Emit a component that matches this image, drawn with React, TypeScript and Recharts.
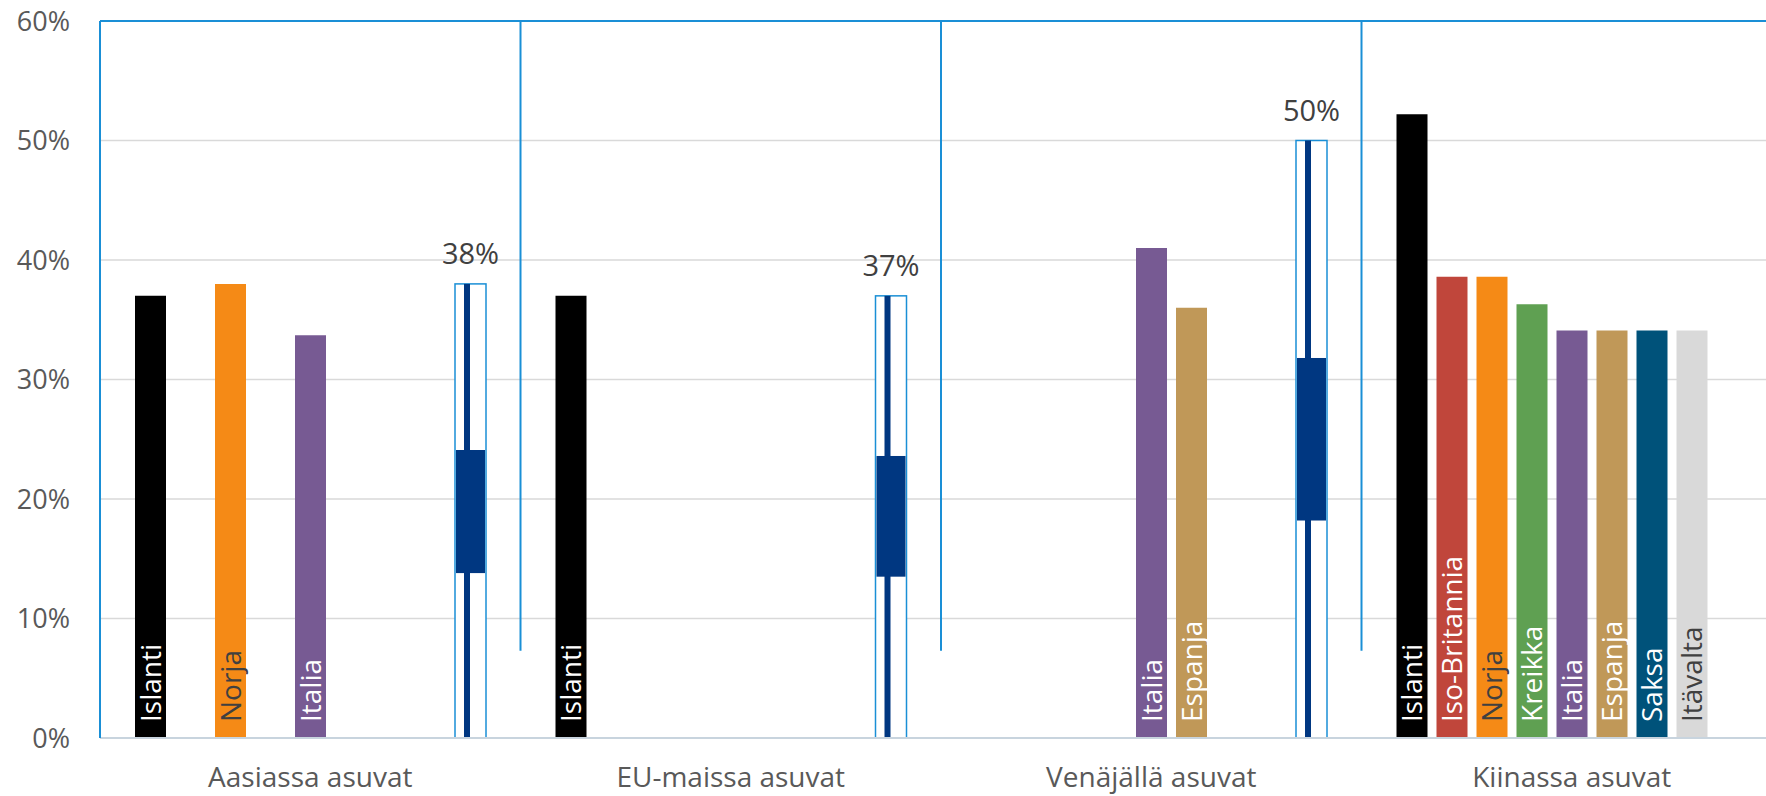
import { BarChart, Bar, XAxis, YAxis, CartesianGrid, LabelList, ReferenceLine } from 'recharts';

const categories = ['Aasiassa asuvat', 'EU-maissa asuvat', 'Venäjällä asuvat', 'Kiinassa asuvat'];

const islanti = [37, 37, null, 52.2];
const isoBritannia = [null, null, null, 38.6];
const norja = [38, null, null, 38.6];
const kreikka = [null, null, null, 36.3];
const italia = [33.7, null, 41, 34.1];
const espanja = [null, null, 36, 34.1];
const saksa = [null, null, null, 34.1];
const itavalta = [null, null, null, 34.1];

// outlined range column: total, plus the filled middle band
const rangeTop = [38, 37, 50, null];
const rangeLow = [13.8, 13.5, 18.2, null];
const rangeHigh = [24.1, 23.6, 31.8, null];

const yTicks = [0, 10, 20, 30, 40, 50, 60];

const series = [
  { key: 'Islanti', values: islanti, color: '#000000', text: '#ffffff' },
  { key: 'Iso-Britannia', values: isoBritannia, color: '#C0463B', text: '#ffffff' },
  { key: 'Norja', values: norja, color: '#F58A16', text: '#404040' },
  { key: 'Kreikka', values: kreikka, color: '#5FA052', text: '#ffffff' },
  { key: 'Italia', values: italia, color: '#775A93', text: '#ffffff' },
  { key: 'Espanja', values: espanja, color: '#C09858', text: '#ffffff' },
  { key: 'Saksa', values: saksa, color: '#00527A', text: '#ffffff' },
  { key: 'Itävalta', values: itavalta, color: '#D9D9D9', text: '#404040' },
];

const data = categories.map((name, i) => {
  const row: any = { name, rangeTop: rangeTop[i], rangeLow: rangeLow[i], rangeHigh: rangeHigh[i] };
  series.forEach((s) => {
    row[s.key] = s.values[i];
  });
  return row;
});

const FONT = '"Open Sans", "Segoe UI", sans-serif';
const BLUE = '#1A8FD6';
const NAVY = '#003781';

function nameLabel(name: string, color: string) {
  return (props: any) => {
    const { x, y, width, height, value } = props;
    if (value == null || !height) return null;
    const cx = x + width / 2;
    const by = y + height - 16;
    return (
      <text
        x={cx}
        y={by}
        dy="0.36em"
        transform={`rotate(-90, ${cx}, ${by})`}
        textAnchor="start"
        fill={color}
        fontSize={28}
        fontFamily={FONT}
      >
        {name}
      </text>
    );
  };
}

function RangeBox(props: any) {
  const { x, y, width, height, payload } = props;
  if (!height || payload == null || payload.rangeTop == null) return null;
  const perUnit = height / payload.rangeTop;
  const base = y + height;
  const yHigh = base - payload.rangeHigh * perUnit;
  const yLow = base - payload.rangeLow * perUnit;
  return (
    <g>
      <rect x={x} y={y} width={width} height={height} fill="#ffffff" stroke={BLUE} strokeWidth={1.5} />
      <rect x={x + 9} y={y} width={6} height={height} fill={NAVY} />
      <rect x={x + 1} y={yHigh} width={width - 2} height={yLow - yHigh} fill={NAVY} />
    </g>
  );
}

export default function App() {
  return (
    <div style={{ position: 'fixed', left: 0, top: 0, width: 1766, height: 796, overflow: 'hidden', background: '#fff' }}>
      <BarChart
        width={1782}
        height={796}
        data={data}
        margin={{ top: 21, right: 0, bottom: 0, left: 0 }}
        barSize={31}
        barGap={9}
      >
        <CartesianGrid vertical={false} stroke="#D9D9D9" strokeWidth={1.5} />
        <XAxis
          dataKey="name"
          height={58}
          axisLine={{ stroke: '#C8D4DE', strokeWidth: 2 }}
          tickLine={false}
          tickSize={6}
          tickMargin={23}
          tick={{ fontSize: 28, fill: '#595959', fontFamily: FONT }}
        />
        <YAxis
          width={100}
          domain={[0, 60]}
          ticks={yTicks}
          interval={0}
          tickFormatter={(v: number) => `${v}%`}
          axisLine={{ stroke: BLUE, strokeWidth: 2 }}
          tickLine={false}
          tickSize={6}
          tickMargin={24}
          tick={{ fontSize: 27, fill: '#595959', fontFamily: FONT }}
        />
        <ReferenceLine y={60} stroke={BLUE} strokeWidth={2} />
        {categories.slice(0, 3).map((c) => (
          <ReferenceLine
            key={`sep-${c}`}
            segment={[{ x: c, y: 60 }, { x: c, y: 7.3 }]}
            position="end"
            stroke={BLUE}
            strokeWidth={2}
          />
        ))}
        {series.map((s) => (
          <Bar key={s.key} dataKey={s.key} fill={s.color} isAnimationActive={false}>
            <LabelList dataKey={s.key} content={nameLabel(s.key, s.text)} />
          </Bar>
        ))}
        <Bar dataKey="rangeTop" shape={<RangeBox />} isAnimationActive={false}>
          <LabelList
            dataKey="rangeTop"
            position="top"
            offset={20}
            formatter={(v: any) => (v == null ? '' : `${v}%`)}
            style={{ fontSize: 29, fill: '#404040', fontFamily: FONT }}
          />
        </Bar>
      </BarChart>
    </div>
  );
}
